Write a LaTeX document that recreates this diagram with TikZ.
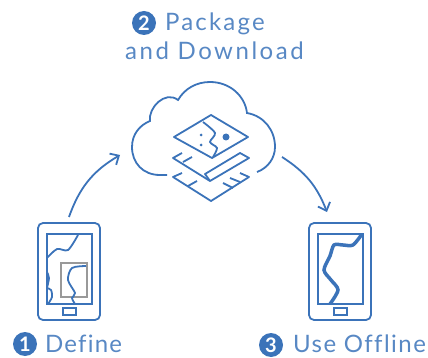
\documentclass[tikz,border=0pt]{standalone}
\usepackage{fontspec}
\usetikzlibrary{arrows.meta}
\setmainfont[LetterSpace=9,Ligatures=NoCommon]{Lato}
\definecolor{mapblue}{HTML}{3B73B9}
\tikzset{
  line/.style={draw=mapblue,line width=1.8pt},
  phone/.style={line,rounded corners=5pt,minimum width=62pt,minimum height=97pt,inner sep=0pt},
  screen/.style={line,minimum width=45pt,minimum height=70pt,inner sep=0pt},
  homekey/.style={line,line width=1.4pt,minimum width=13pt,minimum height=7pt,inner sep=0pt},
  step label/.style={text=mapblue!85,font=\fontsize{24}{28}\selectfont,inner sep=0pt,anchor=base west},
  numdot/.style={circle,fill=mapblue,text=white,minimum size=24pt,inner sep=0pt,font=\fontsize{20}{20}\selectfont\bfseries},
  flow/.style={line,-{Straight Barb[length=7pt,width=13pt]}}
}
\begin{document}
\begin{tikzpicture}[x=1pt,y=-1pt]
  \useasboundingbox (0,0) rectangle (428,358);
  % labels
  \node[numdot] (n2) at (144,23) {2};
  \node[step label] (pack) at (165,31) {Package};
  \node[step label] (down) at (125,60) {\addfontfeature{LetterSpace=10.5}and Download};
  \node[numdot] (n1) at (25,344) {1};
  \node[step label] (def) at (45,352) {\addfontfeature{LetterSpace=5}Define};
  \node[numdot] (n3) at (271,345) {3};
  \node[step label] (use) at (293,352) {\addfontfeature{LetterSpace=6}Use Offline};
  % cloud
  \draw[line] (167,175) -- (160,175) .. controls (143,175) and (132,163) .. (132,147)
    .. controls (132,134) and (140,125) .. (150,121)
    .. controls (148,108) and (165,90) .. (178,100)
    .. controls (185,88) and (197,82) .. (210,82)
    .. controls (230,82) and (245,96) .. (247,113)
    .. controls (264,116) and (275,130) .. (275,147)
    .. controls (275,158) and (268,168) .. (257,172);
  % map layers
  \draw[line,line join=round] (174,137) -- (211,115) -- (248,137) -- (212,158) -- cycle;
  \draw[line] plot[smooth] coordinates {(203,122) (215,133) (210,142) (217,148) (213,157)};
  \fill[mapblue] (226,137) circle (3.5);
  \fill[mapblue] (201,135) circle (1.5);
  \fill[mapblue] (201,145) circle (1.5);
  \draw[line,line join=round] (182,153) -- (173,158) -- (210,181);
  \draw[line,line join=round] (205,174) -- (240,153) -- (249,158) -- (210,181) -- cycle;
  \draw[line] (183,162) -- (192,157);
  \draw[line,line join=round] (182,173) -- (173,177) -- (211,201) -- (249,177) -- (240,173);
  \draw[line] (188,186) -- (197,181);
  \draw[line] (223,183) -- (233,188);
  \draw[line] (230,178) -- (240,182);
  % phones
  \node[phone] (phoneL) at (69,271.5) {};
  \node[screen] (screenL) at (69.5,269) {};
  \node[homekey] (keyL) at (69.5,311.5) {};
  \node[phone] (phoneR) at (340,271.5) {};
  \node[screen] (screenR) at (340.5,269) {};
  \node[homekey] (keyR) at (340.5,311.5) {};
  \node[draw=gray!80,line width=1.5pt,minimum width=26pt,minimum height=34pt,inner sep=0pt] (extent) at (74,280) {};
  \draw[line] plot[smooth] coordinates {(47,258) (57,249) (68,250) (78,235)};
  \draw[line] plot[smooth] coordinates {(47,272) (49,278) (47,288)};
  \draw[line] plot[smooth] coordinates {(47,288) (51,290) (52,297) (48,304)};
  \draw[line] plot[smooth] coordinates {(86,266) (72,268) (68,280) (75,293) (72,298) (75,304)};
  \draw[mapblue,line width=3.5pt] plot[smooth] coordinates {(362,234) (353,245) (343,245) (334,245) (330,256) (324,270) (331,280) (338,290) (330,304)};
  % arrows
  \coordinate (a1) at (69,217);
  \coordinate (a2) at (120,155);
  \coordinate (b1) at (282,157);
  \coordinate (b2) at (327,212);
  \draw[flow] (a1) to[bend left=20] (a2);
  \draw[flow] (b1) to[bend left=18] (b2);
\end{tikzpicture}
\end{document}
